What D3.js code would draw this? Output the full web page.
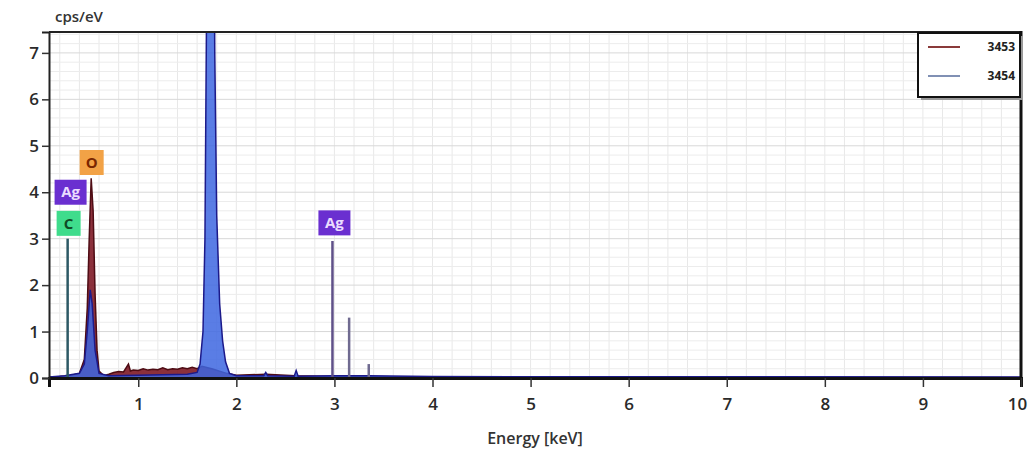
<!DOCTYPE html>
<html>
<head>
<meta charset="utf-8">
<script src="https://cdn.jsdelivr.net/npm/d3@7"></script>
<style>
  body { margin: 0; background: #fff; }
  text { font-family: "Open Sans", "Liberation Sans", sans-serif; }
</style>
</head>
<body>
<svg id="chart" width="1029" height="454"></svg>
<script>
// spectrum 3453 (dark red) : [energy keV, cps/eV]
var spec3453 = [
  [0.09, 0.02], [0.20, 0.03], [0.30, 0.05], [0.40, 0.10], [0.45, 0.40], [0.48, 1.50],
  [0.50, 3.00], [0.52, 4.30], [0.54, 3.60], [0.56, 1.80], [0.58, 0.60], [0.60, 0.15],
  [0.65, 0.05], [0.70, 0.08], [0.75, 0.12], [0.80, 0.14], [0.85, 0.13], [0.90, 0.30],
  [0.92, 0.15], [0.95, 0.17], [1.00, 0.16], [1.05, 0.20], [1.10, 0.17], [1.15, 0.19],
  [1.20, 0.18], [1.25, 0.22], [1.30, 0.18], [1.35, 0.20], [1.40, 0.19], [1.45, 0.22],
  [1.50, 0.20], [1.55, 0.23], [1.60, 0.20], [1.65, 0.25], [1.75, 0.20], [1.90, 0.10],
  [2.00, 0.06], [2.30, 0.08], [2.60, 0.05], [3.00, 0.03], [4.00, 0.02], [10.0, 0.01]
];
// spectrum 3454 (blue)
var spec3454 = [
  [0.09, 0.02], [0.25, 0.05], [0.40, 0.10], [0.45, 0.30], [0.48, 1.00], [0.51, 1.90],
  [0.53, 1.60], [0.56, 0.60], [0.60, 0.10], [0.70, 0.05], [1.00, 0.06], [1.50, 0.08],
  [1.60, 0.12], [1.63, 0.30], [1.66, 1.00], [1.68, 3.00], [1.70, 9.00], [1.72, 16.0],
  [1.74, 20.0], [1.76, 15.0], [1.78, 7.00], [1.80, 3.50], [1.83, 1.60], [1.86, 0.80],
  [1.89, 0.35], [1.93, 0.10], [2.00, 0.05], [2.28, 0.05], [2.30, 0.12], [2.32, 0.05],
  [2.59, 0.04], [2.61, 0.16], [2.63, 0.04], [3.00, 0.05], [3.35, 0.05], [4.00, 0.03],
  [10.0, 0.02]
];
// element marker lines
var markerLines = [
  { el: "C",  e: 0.28, h: 3.00, color: "#2d5965" },
  { el: "Ag", e: 2.98, h: 2.95, color: "#5f5088" },
  { el: "Ag", e: 3.15, h: 1.30, color: "#6f6a90" },
  { el: "Ag", e: 3.35, h: 0.30, color: "#6f6a90" }
];
// element labels
var elemLabels = [
  { text: "O",  e: 0.525, y: 4.64, fill: "#f2a246", color: "#7a2600" },
  { text: "Ag", e: 0.31,  y: 4.00, fill: "#6a2fd0", color: "#eadcff" },
  { text: "C",  e: 0.29,  y: 3.33, fill: "#3fdc8c", color: "#0f4a26" },
  { text: "Ag", e: 3.00,  y: 3.34, fill: "#6a2fd0", color: "#eadcff" }
];
var xTicks = [1, 2, 3, 4, 5, 6, 7, 8, 9, 10];
var yTicks = [0, 1, 2, 3, 4, 5, 6, 7];
var seriesNames = ["3453", "3454"];

var svg = d3.select("#chart");
var margin = { left: 49, top: 32, right: 8, bottom: 76 };
var W = 1029, H = 454;

var x = d3.scaleLinear().domain([0.09, 10]).range([margin.left, W - margin.right]);
var y = d3.scaleLinear().domain([0, 7.45]).range([H - margin.bottom, margin.top]);

svg.append("clipPath").attr("id", "clip")
  .append("rect")
  .attr("x", margin.left).attr("y", margin.top)
  .attr("width", W - margin.left - margin.right)
  .attr("height", H - margin.top - margin.bottom);

// grid
var minorX = d3.range(0.2, 10.01, 0.2);
var minorY = d3.range(0.2, 7.45, 0.2);
var grid = svg.append("g").attr("clip-path", "url(#clip)");
grid.selectAll(".gx").data(minorX).enter().append("line")
  .attr("x1", d => x(d)).attr("x2", d => x(d))
  .attr("y1", margin.top).attr("y2", H - margin.bottom)
  .attr("stroke", "#e8e8e8").attr("stroke-width", 1);
grid.selectAll(".gy").data(minorY).enter().append("line")
  .attr("x1", margin.left).attr("x2", W - margin.right)
  .attr("y1", d => y(d)).attr("y2", d => y(d))
  .attr("stroke", d => Math.abs(d * 2 - Math.round(d * 2)) < 0.01 ? "#d8d8d8" : "#ececec")
  .attr("stroke-width", 1);

// spectra
var plot = svg.append("g").attr("clip-path", "url(#clip)");
var area = d3.area().x(d => x(d[0])).y0(y(0)).y1(d => y(d[1]));
var line = d3.line().x(d => x(d[0])).y(d => y(d[1]));

plot.append("path").datum(spec3453)
  .attr("d", area).attr("fill", "#7e1a26").attr("fill-opacity", 0.9);
plot.append("path").datum(spec3453)
  .attr("d", line).attr("fill", "none").attr("stroke", "#4e0c14").attr("stroke-width", 1.5);

plot.append("path").datum(spec3454)
  .attr("d", area).attr("fill", "#3d66e0").attr("fill-opacity", 0.85);
plot.append("path").datum(spec3454)
  .attr("d", line).attr("fill", "none").attr("stroke", "#1c1a8a").attr("stroke-width", 1.5);

// marker lines
plot.selectAll(".mk").data(markerLines).enter().append("line")
  .attr("x1", d => x(d.e)).attr("x2", d => x(d.e))
  .attr("y1", y(0)).attr("y2", d => y(d.h))
  .attr("stroke", d => d.color).attr("stroke-width", 2.5);

// element label boxes
var lab = svg.selectAll(".lab").data(elemLabels).enter().append("g")
  .attr("transform", d => `translate(${x(d.e)},${y(d.y)})`);
lab.append("rect")
  .attr("x", d => d.text.length > 1 ? -16 : -12)
  .attr("width", d => d.text.length > 1 ? 32 : 24)
  .attr("y", -12.5).attr("height", 25)
  .attr("fill", d => d.fill);
lab.append("text")
  .attr("text-anchor", "middle").attr("dy", "0.35em")
  .attr("font-size", 15).attr("font-weight", 700)
  .attr("fill", d => d.color)
  .text(d => d.text);

// frame
svg.append("line").attr("x1", margin.left).attr("x2", W - margin.right)
  .attr("y1", margin.top).attr("y2", margin.top)
  .attr("stroke", "#222").attr("stroke-width", 2);
svg.append("line").attr("x1", W - margin.right).attr("x2", W - margin.right)
  .attr("y1", margin.top - 1).attr("y2", H - margin.bottom)
  .attr("stroke", "#111").attr("stroke-width", 3);

// x axis
var gx = svg.append("g").attr("transform", `translate(0,${y(0)})`);
gx.call(d3.axisBottom(x).tickValues(minorX).tickSize(5).tickFormat(""));
gx.call(d3.axisBottom(x).tickValues(xTicks).tickSize(9).tickPadding(11).tickFormat(d3.format("d")));
gx.selectAll(".domain").attr("stroke", "#111").attr("stroke-width", 3);
gx.selectAll(".tick line").attr("stroke", "#333").attr("stroke-width", 1.5);
gx.selectAll("text").attr("font-size", 17).attr("font-weight", 600).attr("fill", "#2a2a2a");
gx.selectAll(".tick text").filter(d => d === 10).attr("dx", -4);

// y axis
var gy = svg.append("g").attr("transform", `translate(${margin.left},0)`);
gy.call(d3.axisLeft(y).tickValues(minorY).tickSize(4).tickFormat(""));
gy.call(d3.axisLeft(y).tickValues(yTicks).tickSize(7).tickPadding(3).tickFormat(d3.format("d")));
gy.selectAll(".domain").attr("stroke", "#222").attr("stroke-width", 2);
gy.selectAll(".tick line").attr("stroke", "#333").attr("stroke-width", 1.5);
gy.selectAll("text").attr("font-size", 17).attr("font-weight", 600).attr("fill", "#2a2a2a");

// axis titles
svg.append("text").attr("x", 55).attr("y", 22)
  .attr("font-size", 15).attr("font-weight", 600).attr("fill", "#333")
  .text("cps/eV");
svg.append("text").attr("x", 535).attr("y", 444)
  .attr("text-anchor", "middle")
  .attr("font-size", 16).attr("font-weight", 600).attr("fill", "#333")
  .text("Energy [keV]");

// legend
var legColors = ["#8a3a3a", "#8090b4"];
var leg = svg.append("g").attr("transform", "translate(918,33)");
leg.append("rect").attr("x", 3).attr("y", 3).attr("width", 102).attr("height", 64)
  .attr("fill", "#999");
leg.append("rect").attr("width", 102).attr("height", 64)
  .attr("fill", "#fff").attr("stroke", "#111").attr("stroke-width", 2);
var li = leg.selectAll(".li").data(seriesNames).enter().append("g")
  .attr("transform", (d, i) => `translate(0,${14 + i * 29})`);
li.append("line").attr("x1", 10).attr("x2", 42)
  .attr("stroke", (d, i) => legColors[i]).attr("stroke-width", 2);
li.append("text").attr("x", 97).attr("dy", "0.35em").attr("text-anchor", "end")
  .attr("font-size", 12).attr("font-weight", 700).attr("fill", "#222")
  .text(d => d);
</script>
</body>
</html>
